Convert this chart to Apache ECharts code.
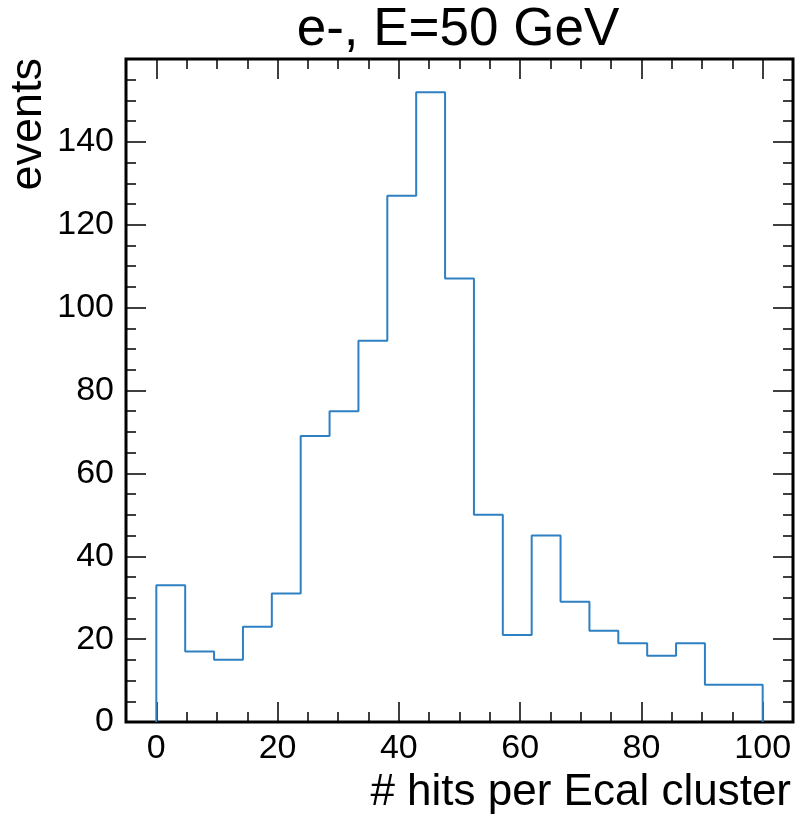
<!DOCTYPE html>
<html>
<head>
<meta charset="utf-8">
<script src="https://cdn.jsdelivr.net/npm/echarts@6/dist/echarts.min.js"></script>
<style>html,body{margin:0;padding:0;background:#fff}#c{width:800px;height:818px}</style>
</head>
<body>
<div id="c"></div>
<script>
// ---- data ----
const binLow = 0;
const binHigh = 100;
const counts = [33, 17, 15, 23, 31, 69, 75, 92, 127, 152, 107, 50, 21, 45, 29, 22, 19, 16, 19, 9, 9];
const xTicks = [0, 20, 40, 60, 80, 100];
const yTicks = [0, 20, 40, 60, 80, 100, 120, 140];
const titleText = 'e-, E=50 GeV';
const xLabel = '# hits per Ecal cluster';
const yLabel = 'events';

// ---- layout ----
const FONT = "'Liberation Sans', Arial, Helvetica, sans-serif";
const L = 126, R = 7, T = 59, B = 96;
const W = 800 - L - R;
const xPad = 5;
const pxPerUnit = W / (binHigh - binLow + 2 * xPad);

const nBins = counts.length;
const width = (binHigh - binLow) / nBins;
const pts = [[binLow, 0]];
counts.forEach((c, i) => {
  pts.push([binLow + i * width, c]);
  pts.push([binLow + (i + 1) * width, c]);
});
pts.push([binHigh, 0]);

const tickCommon = (len) => ({show: true, inside: true, length: len, lineStyle: {color: '#000', width: 1.5}});
const minorCommon = {show: true, splitNumber: 4, length: 10, lineStyle: {color: '#000', width: 1.5}};

const chart = echarts.init(document.getElementById('c'), null, {renderer: 'canvas'});
chart.setOption({
  animation: false,
  backgroundColor: '#fff',
  grid: [
    {left: L + xPad * pxPerUnit, right: R + xPad * pxPerUnit, top: T, bottom: B, show: false},
    {left: L, right: R, top: T, bottom: B, show: true, borderColor: '#000', borderWidth: 3, backgroundColor: 'transparent'}
  ],
  xAxis: [
    {gridIndex: 0, type: 'value', position: 'bottom', min: binLow, max: binHigh, interval: 20,
     axisLine: {show: false}, axisTick: tickCommon(20), minorTick: minorCommon, splitLine: {show: false},
     axisLabel: {show: true, margin: 10, color: '#000', fontSize: 34, fontFamily: FONT,
       formatter: v => xTicks.includes(v) ? String(v) : ''}},
    {gridIndex: 0, type: 'value', position: 'top', min: binLow, max: binHigh, interval: 20,
     axisLine: {show: false}, axisTick: tickCommon(20), minorTick: minorCommon, splitLine: {show: false},
     axisLabel: {show: false}},
    {gridIndex: 1, type: 'value', min: 0, max: 1, show: false}
  ],
  yAxis: [
    {gridIndex: 0, type: 'value', min: 0, max: 160, show: false},
    {gridIndex: 1, type: 'value', position: 'left', min: 0, max: 160, interval: 20,
     axisLine: {show: false}, axisTick: tickCommon(20), minorTick: minorCommon, splitLine: {show: false},
     axisLabel: {show: true, margin: 12, color: '#000', fontSize: 34, fontFamily: FONT,
       formatter: v => yTicks.includes(v) ? String(v) : ''}},
    {gridIndex: 1, type: 'value', position: 'right', min: 0, max: 160, interval: 20,
     axisLine: {show: false}, axisTick: tickCommon(20), minorTick: minorCommon, splitLine: {show: false},
     axisLabel: {show: false}}
  ],
  series: [{
    type: 'line', xAxisIndex: 0, yAxisIndex: 0, data: pts, showSymbol: false, symbol: 'none',
    lineStyle: {color: '#2f80c2', width: 2}, clip: false, z: 1
  }],
  graphic: [
    {type: 'text', x: 458, y: 30, style: {text: titleText, fill: '#000', font: '53px ' + FONT, textAlign: 'center', textVerticalAlign: 'middle'}},
    {type: 'text', x: 791, y: 793, style: {text: xLabel, fill: '#000', font: '44px ' + FONT, textAlign: 'right', textVerticalAlign: 'middle'}},
    {type: 'text', x: 29, y: 58, rotation: Math.PI / 2, style: {text: yLabel, fill: '#000', font: '45px ' + FONT, textAlign: 'right', textVerticalAlign: 'middle'}}
  ]
});
</script>
</body>
</html>
